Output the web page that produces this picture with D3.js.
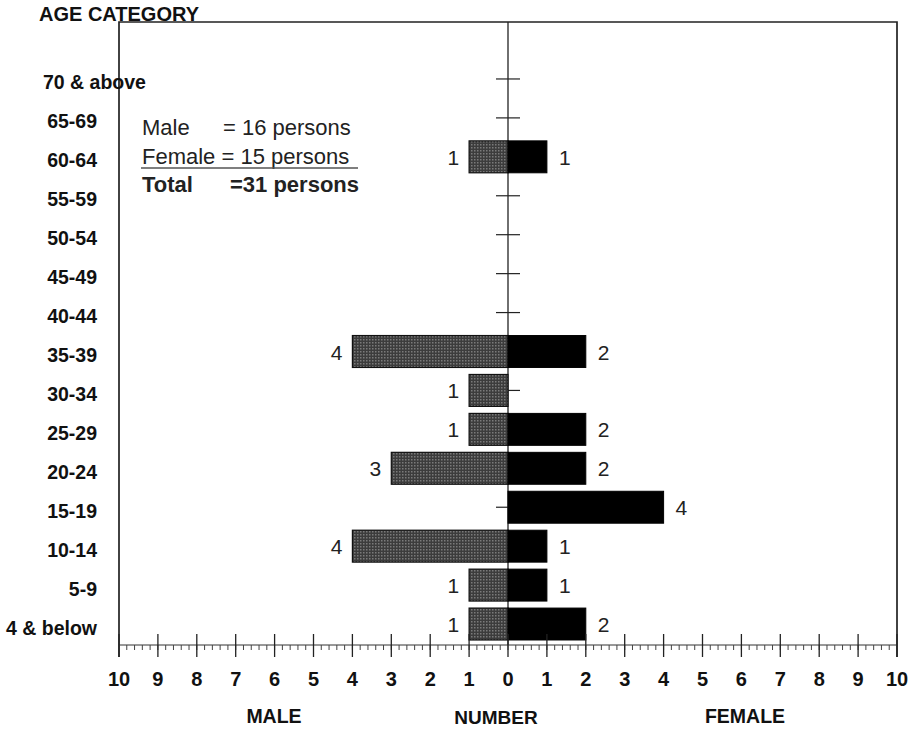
<!DOCTYPE html>
<html><head><meta charset="utf-8">
<script src="https://cdn.jsdelivr.net/npm/d3@7"></script>
<style>body{margin:0;background:#fff}svg{display:block;font-family:Arial,"Liberation Sans",sans-serif}</style>
</head><body><svg id="c" width="916" height="729"></svg>
<script>
const categories = ["4 & below","5-9","10-14","15-19","20-24","25-29","30-34","35-39","40-44","45-49","50-54","55-59","60-64","65-69","70 & above"];
const maleValues =   [1,1,4,0,3,1,1,4,0,0,0,0,1,0,0];
const femaleValues = [2,1,1,4,2,2,0,2,0,0,0,0,1,0,0];
const tickValues = [-10,-9,-8,-7,-6,-5,-4,-3,-2,-1,0,1,2,3,4,5,6,7,8,9,10];
const legendNames = ["Male","Female","Total"];
const legendValues = ["= 16 persons","= 15 persons","=31 persons"];

const svg = d3.select("#c");
const x = d3.scaleLinear().domain([-10,10]).range([119,897]);
const y = d3.scaleBand().domain(categories.slice().reverse()).range([59.5,643.5]).paddingInner(0.18).paddingOuter(0.09);
const axisY = 645, topY = 22;
const cy = d => y(d)+y.bandwidth()/2;

const defs = svg.append("defs");
const pat = defs.append("pattern").attr("id","dots").attr("width",3).attr("height",3).attr("patternUnits","userSpaceOnUse");
pat.append("rect").attr("width",3).attr("height",3).attr("fill","#3c3c3c");
pat.append("rect").attr("width",1.5).attr("height",1.5).attr("fill","#7a7a7a");

// frame
svg.append("path").attr("d",`M${x(-10)},${axisY+12}V${topY}H${x(10)}V${axisY+12}`).attr("fill","none").attr("stroke","#222").attr("stroke-width",1.7);

// title
svg.append("text").attr("x",39).attr("y",21).attr("font-size",20).attr("font-weight","bold").attr("fill","#111").text("AGE CATEGORY");

// center line
svg.append("line").attr("x1",x(0)).attr("x2",x(0)).attr("y1",topY).attr("y2",axisY).attr("stroke","#222").attr("stroke-width",1.3);

// center ticks
svg.append("g").selectAll("line").data(categories).join("line")
  .attr("x1",x(0)-12).attr("x2",x(0)+12)
  .attr("y1",cy).attr("y2",cy)
  .attr("stroke","#222").attr("stroke-width",1.2);

// bars
const rows = categories.map((c,i)=>({c,m:maleValues[i],f:femaleValues[i]}));
svg.append("g").selectAll("rect").data(rows.filter(d=>d.m>0)).join("rect")
  .attr("x",d=>x(-d.m)).attr("width",d=>x(0)-x(-d.m))
  .attr("y",d=>y(d.c)).attr("height",y.bandwidth())
  .attr("fill","url(#dots)").attr("stroke","#111").attr("stroke-width",1.2);
svg.append("g").selectAll("rect").data(rows.filter(d=>d.f>0)).join("rect")
  .attr("x",x(0)).attr("width",d=>x(d.f)-x(0))
  .attr("y",d=>y(d.c)).attr("height",y.bandwidth())
  .attr("fill","#000").attr("stroke","#000");

// value labels
svg.append("g").selectAll("text").data(rows.filter(d=>d.m>0)).join("text")
  .attr("x",d=>x(-d.m)-10).attr("y",d=>cy(d.c)+8)
  .attr("text-anchor","end").attr("font-size",21).attr("fill","#222").text(d=>d.m);
svg.append("g").selectAll("text").data(rows.filter(d=>d.f>0)).join("text")
  .attr("x",d=>x(d.f)+12).attr("y",d=>cy(d.c)+8)
  .attr("text-anchor","start").attr("font-size",21).attr("fill","#222").text(d=>d.f);

// category labels
const last = categories.length-1;
svg.append("g").selectAll("text").data(categories).join("text")
  .attr("x",(d,i)=>i===last?43:97).attr("text-anchor",(d,i)=>i===last?"start":"end")
  .attr("y",d=>cy(d)+10.5)
  .attr("font-size",19.5).attr("font-weight","bold").attr("fill","#111").text(d=>d);

// bottom axis
const ax = svg.append("g");
ax.append("line").attr("x1",x(-10)).attr("x2",x(10)).attr("y1",axisY).attr("y2",axisY).attr("stroke","#333").attr("stroke-width",1);
const minor = d3.range(-100,101,2).map(v=>v/10);
ax.selectAll("line.mn").data(minor).join("line").attr("class","mn")
  .attr("x1",d=>x(d)).attr("x2",d=>x(d)).attr("y1",axisY).attr("y2",axisY+5).attr("stroke","#444").attr("stroke-width",1);
ax.selectAll("line.mj").data(tickValues).join("line").attr("class","mj")
  .attr("x1",d=>x(d)).attr("x2",d=>x(d)).attr("y1",axisY-11).attr("y2",axisY+12).attr("stroke","#222").attr("stroke-width",1.3);
ax.selectAll("text").data(tickValues).join("text")
  .attr("x",d=>x(d)).attr("y",686).attr("text-anchor","middle")
  .attr("font-size",20).attr("font-weight","bold").attr("fill","#111").text(d=>Math.abs(d));

svg.append("text").attr("x",274).attr("y",723).attr("text-anchor","middle").attr("font-size",19.5).attr("font-weight","bold").attr("fill","#111").text("MALE");
svg.append("text").attr("x",496).attr("y",724).attr("text-anchor","middle").attr("font-size",19).attr("font-weight","bold").attr("fill","#111").text("NUMBER");
svg.append("text").attr("x",745).attr("y",723).attr("text-anchor","middle").attr("font-size",19.5).attr("font-weight","bold").attr("fill","#111").text("FEMALE");

// legend
const lg = svg.append("g").attr("font-size",22).attr("fill","#222");
const valX = [223, 0, 230];
legendNames.forEach((n,i)=>{
  const t = lg.append("text").attr("x",142).attr("y",135+i*28.5).attr("font-weight",i===2?"bold":"normal");
  if(i===1){ t.text(n+" "+legendValues[i]); }
  else { t.append("tspan").text(n); t.append("tspan").attr("x",valX[i]).text(legendValues[i]); }
});
lg.append("line").attr("x1",141).attr("x2",358).attr("y1",168).attr("y2",168).attr("stroke","#555").attr("stroke-width",1.3);
</script></body></html>
